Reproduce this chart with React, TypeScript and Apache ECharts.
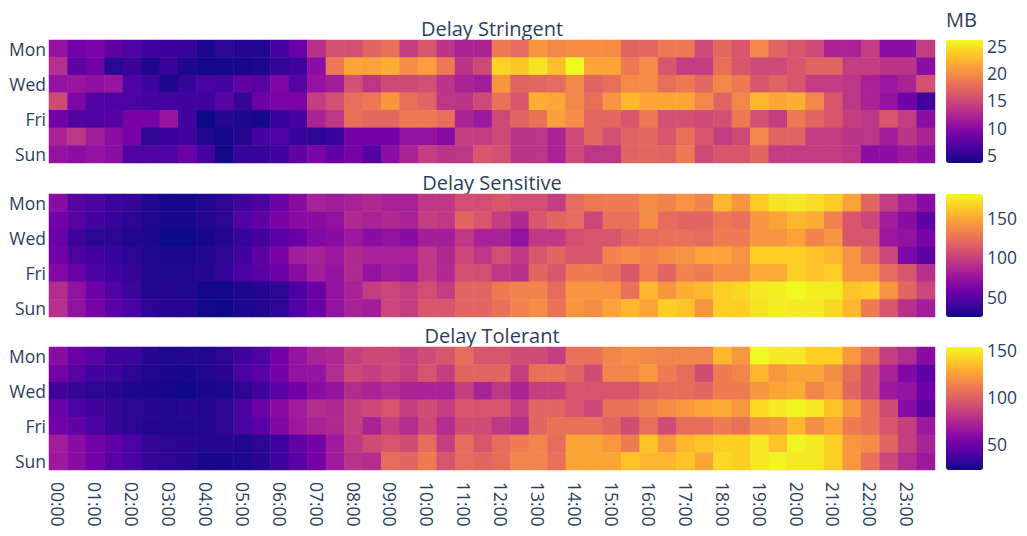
import React, { useEffect, useRef } from 'react';
import * as echarts from 'echarts';

// Weekday rows (Mon at top) and half-hour slots across the day
const days = ['Mon', 'Tue', 'Wed', 'Thu', 'Fri', 'Sat', 'Sun'];
const slots: string[] = [];
for (let h = 0; h < 24; h++) {
  const hh = String(h).padStart(2, '0');
  slots.push(`${hh}:00`, `${hh}:30`);
}

const panelTitles = ['Delay Stringent', 'Delay Sensitive', 'Delay Tolerant'];
const unitLabel = 'MB';

// Colour-bar tick labels per panel
const stringentTicks = [5, 10, 15, 20, 25];
const sensitiveTicks = [50, 100, 150];
const tolerantTicks = [50, 100, 150];

// Average traffic (MB) per weekday x half-hour slot
const delayStringent: number[][] = [
  [10.5, 8.5, 9, 7.5, 6.5, 5.8, 5.5, 5.3, 4.2, 4.8, 4.5, 4.4, 6, 8, 13, 15.5,
   15.5, 17, 18, 14, 16, 13.3, 12, 12, 18.6, 17.5, 20.5, 19.5, 20, 20, 19.8, 17,
   17.3, 18.5, 18.5, 15, 17.3, 16, 19.5, 17, 16, 15, 12, 12, 14, 10, 10, 14],
  [13, 7.5, 8.5, 4.8, 5.5, 4.3, 5.5, 4.2, 3.7, 3.7, 3.9, 4.3, 5.2, 5.7, 10, 18.5,
   21.5, 21.2, 22, 20, 21, 18.5, 13.3, 15, 24, 23.5, 25, 23, 26.1, 21.5, 21.5, 18.5,
   19.8, 16, 14, 14, 17.8, 16, 15, 15, 16, 17, 17, 14, 14, 13.3, 13.3, 10],
  [10.5, 10.8, 10.2, 10.8, 6.5, 5.7, 4.3, 5.2, 6.2, 5.9, 7.5, 7, 9.3, 7, 10.5, 11.5,
   15.5, 13.5, 15, 15, 15.5, 13.3, 12, 11.5, 20.5, 17, 17.3, 17.5, 19.5, 17, 17.8, 19.8,
   19.8, 17.8, 18.5, 17.3, 19.5, 18.5, 16, 17, 16, 14, 14, 13.5, 12, 11, 12, 15.5],
  [15, 9.3, 6.8, 6.6, 6.4, 6, 6, 5.8, 5.8, 7, 5.2, 8, 9, 9, 14, 15.5,
   17.8, 18.5, 20.5, 17.8, 17, 13.5, 13.3, 15, 18, 16, 22, 21.5, 19.5, 17.8, 20.3, 22.5,
   21.5, 21.5, 21.5, 19.5, 17, 19.5, 22.5, 21.5, 22, 19.5, 16, 13.5, 12, 10.5, 8.5, 5.8],
  [8.5, 6.6, 6.4, 6.8, 8.8, 8.8, 10.8, 5.8, 3.5, 4.5, 4.2, 3.8, 5.3, 6, 12, 13.5,
   17.8, 17.3, 17.3, 18.6, 18.6, 17.8, 12, 11, 15, 17, 18, 21, 19.8, 17.3, 17.3, 16,
   18.5, 15.5, 15.5, 15, 15.5, 18.5, 15.5, 14, 18.5, 17, 16, 14, 13.5, 16, 14, 10],
  [12, 13.5, 11.5, 10, 8.8, 5, 5.5, 5.8, 4.4, 3.8, 4.5, 6, 6.4, 5.3, 4.8, 5.4,
   8.5, 8.5, 8.5, 10.5, 10.5, 9.7, 14, 14, 15, 13.3, 13.5, 12, 15, 17.3, 15.5, 17,
   17.3, 16, 17.8, 16, 14, 15, 19.5, 17, 17, 14, 14, 13.3, 13.5, 11.5, 13.3, 12],
  [10.5, 10, 10.5, 10, 6.4, 6.4, 6.4, 8, 6, 3.8, 5.3, 5.3, 5.8, 7.5, 9, 7.5,
   8.8, 6.8, 10, 12, 14, 13.3, 13.5, 16, 15.5, 13.3, 13.5, 12, 15, 13.5, 13.5, 17,
   17.3, 17, 18.5, 15, 16, 16, 17, 14, 14, 14, 14, 13.5, 10, 10, 11, 10],
];

const delaySensitive: number[][] = [
  [68, 49, 43, 38, 36, 30, 27, 27, 30, 33, 40, 43, 55, 68, 82, 79,
   82, 86, 82, 82, 94, 94, 106, 106, 110, 106, 106, 97, 121, 128, 129, 129,
   137, 133, 140, 133, 155, 141, 163, 172, 174, 170, 163, 147, 118, 97, 82, 68],
  [59, 49, 40, 36, 33, 30, 27, 27, 31, 33, 46, 52, 61, 68, 68, 72,
   86, 82, 86, 82, 97, 94, 118, 110, 97, 86, 110, 118, 121, 102, 124, 124,
   137, 121, 118, 118, 128, 124, 141, 147, 155, 151, 133, 110, 102, 79, 68, 52],
  [55, 38, 33, 33, 30, 29, 24, 24, 27, 31, 36, 40, 49, 55, 65, 68,
   76, 68, 72, 68, 79, 79, 94, 82, 82, 72, 94, 94, 106, 110, 110, 118,
   121, 124, 124, 121, 129, 129, 141, 141, 147, 133, 141, 110, 110, 76, 72, 61],
  [59, 44, 40, 36, 33, 30, 29, 29, 30, 33, 40, 52, 61, 79, 82, 76,
   86, 82, 82, 82, 94, 86, 102, 94, 106, 94, 110, 118, 110, 110, 133, 137,
   133, 137, 140, 147, 147, 140, 164, 164, 164, 160, 155, 140, 124, 102, 63, 52],
  [65, 55, 43, 39, 36, 30, 30, 30, 31, 36, 43, 49, 55, 68, 79, 72,
   86, 72, 79, 76, 94, 86, 106, 106, 94, 90, 118, 110, 129, 129, 124, 110,
   130, 118, 133, 129, 137, 137, 151, 151, 164, 160, 164, 141, 141, 121, 110, 90],
  [88, 72, 57, 46, 38, 30, 31, 30, 25, 25, 29, 30, 33, 43, 55, 72,
   82, 97, 102, 97, 106, 97, 118, 118, 128, 133, 133, 121, 141, 141, 140, 124,
   155, 141, 151, 155, 164, 168, 174, 176, 180, 176, 176, 160, 164, 141, 118, 102],
  [90, 72, 61, 49, 43, 33, 31, 31, 25, 24, 29, 30, 33, 46, 55, 72,
   82, 79, 102, 97, 110, 110, 118, 118, 124, 133, 137, 124, 141, 137, 147, 155,
   147, 164, 160, 141, 164, 164, 172, 176, 174, 174, 168, 155, 129, 110, 90, 79],
];

const delayTolerant: number[][] = [
  [59, 48, 43, 35, 34, 29, 27, 28, 27, 30, 35, 39, 51, 63, 71, 74,
   84, 88, 88, 84, 90, 94, 104, 94, 94, 90, 90, 84, 106, 106, 114, 117,
   115, 114, 114, 114, 132, 121, 153, 148, 148, 140, 140, 121, 106, 84, 75, 59],
  [52, 43, 35, 34, 30, 27, 25, 25, 27, 29, 38, 43, 52, 63, 63, 75,
   88, 84, 88, 84, 94, 84, 101, 101, 101, 84, 106, 106, 101, 90, 114, 114,
   121, 110, 104, 90, 110, 114, 132, 121, 126, 126, 117, 104, 90, 71, 56, 45],
  [35, 32, 30, 29, 26, 25, 24, 22, 25, 26, 30, 35, 43, 51, 59, 64,
   75, 71, 75, 71, 71, 71, 84, 71, 81, 71, 84, 84, 94, 94, 94, 94,
   102, 104, 104, 101, 110, 110, 120, 126, 128, 114, 121, 101, 90, 66, 63, 51],
  [48, 39, 35, 32, 30, 29, 27, 29, 27, 30, 38, 48, 59, 68, 76, 74,
   84, 88, 94, 84, 90, 84, 94, 94, 94, 84, 101, 101, 94, 88, 106, 106,
   112, 117, 121, 126, 128, 121, 143, 148, 151, 147, 136, 121, 106, 90, 59, 45],
  [51, 45, 38, 32, 30, 28, 27, 27, 27, 30, 38, 43, 56, 66, 71, 74,
   84, 71, 84, 75, 88, 75, 90, 90, 81, 75, 101, 106, 106, 106, 101, 90,
   105, 90, 104, 104, 110, 106, 117, 120, 132, 117, 126, 110, 106, 94, 84, 66],
  [68, 59, 51, 45, 39, 32, 30, 29, 28, 28, 27, 30, 34, 45, 52, 67,
   81, 90, 94, 90, 104, 84, 104, 94, 104, 110, 114, 104, 126, 126, 121, 110,
   136, 121, 132, 136, 140, 140, 147, 136, 151, 148, 140, 121, 117, 101, 84, 71],
  [66, 59, 51, 43, 38, 32, 30, 29, 25, 25, 26, 29, 34, 43, 52, 67,
   78, 76, 104, 101, 110, 94, 104, 101, 104, 114, 114, 106, 126, 126, 126, 136,
   132, 132, 136, 126, 143, 140, 147, 151, 148, 148, 140, 121, 106, 88, 75, 66],
];

const panels = [
  { title: panelTitles[0], rows: delayStringent, ticks: stringentTicks },
  { title: panelTitles[1], rows: delaySensitive, ticks: sensitiveTicks },
  { title: panelTitles[2], rows: delayTolerant, ticks: tolerantTicks },
];

const plasma = ['#0d0887', '#46039f', '#7201a8', '#9c179e', '#bd3786',
  '#d8576b', '#ed7953', '#fb9f3a', '#fdca26', '#f0f921'];

const FONT = '"Open Sans", verdana, arial, sans-serif';
const INK = '#2a3f5f';
const PLOT_LEFT = 49;
const PLOT_WIDTH = 886;
const PANEL_TOPS = [40, 194, 347];
const PANEL_HEIGHT = 123;
const BAR_LEFT = 946;
const BAR_WIDTH = 37;

function buildOption() {
  const grid: any[] = [];
  const xAxis: any[] = [];
  const yAxis: any[] = [];
  const series: any[] = [];
  const visualMap: any[] = [];
  const graphic: any[] = [];

  panels.forEach((p, i) => {
    const top = PANEL_TOPS[i];
    const flat = p.rows.flat();
    const lo = Math.min(...flat);
    const hi = Math.max(...flat);
    const isLast = i === panels.length - 1;

    grid.push({ left: PLOT_LEFT, top, width: PLOT_WIDTH, height: PANEL_HEIGHT, outerBoundsMode: 'none' });
    xAxis.push({
      type: 'category', gridIndex: i, data: slots,
      axisLine: { show: false }, axisTick: { show: false }, splitLine: { show: false },
      axisLabel: {
        show: isLast, interval: 1, rotate: -90, margin: 12,
        fontSize: 17.5, fontFamily: FONT, color: INK,
      },
    });
    yAxis.push({
      type: 'category', gridIndex: i, data: days, inverse: true,
      axisLine: { show: false }, axisTick: { show: false }, splitLine: { show: false },
      axisLabel: { interval: 1, margin: 3, fontSize: 17.5, fontFamily: FONT, color: INK },
    });

    const data: number[][] = [];
    p.rows.forEach((row, d) => row.forEach((v, s) => data.push([s, d, v])));
    series.push({
      type: 'heatmap', xAxisIndex: i, yAxisIndex: i, data,
      itemStyle: { borderWidth: 0 }, emphasis: { disabled: true },
    });

    visualMap.push({
      type: 'continuous', seriesIndex: i, min: lo, max: hi,
      inRange: { color: plasma }, calculable: false, orient: 'vertical',
      itemWidth: BAR_WIDTH, itemHeight: PANEL_HEIGHT, left: BAR_LEFT, top, padding: 0,
      text: null, showLabel: false, hoverLink: false,
    });

    graphic.push({
      type: 'text', x: PLOT_LEFT + PLOT_WIDTH / 2, y: top - 12, silent: true,
      style: {
        text: p.title, fontSize: 20, fontFamily: FONT, fill: INK,
        align: 'center', verticalAlign: 'middle', textAlign: 'center', textVerticalAlign: 'middle',
      },
    });
  });

  // Colour-bar tick labels, placed on value axes aligned with each colour bar
  panels.forEach((p, i) => {
    const flat = p.rows.flat();
    const gi = panels.length + i;
    grid.push({ left: BAR_LEFT, top: PANEL_TOPS[i], width: BAR_WIDTH, height: PANEL_HEIGHT, outerBoundsMode: 'none' });
    xAxis.push({ type: 'value', gridIndex: gi, show: false, min: 0, max: 1 });
    yAxis.push({
      type: 'value', gridIndex: gi, position: 'right',
      min: Math.min(...flat), max: Math.max(...flat),
      axisLine: { show: false }, axisTick: { show: false }, splitLine: { show: false },
      axisLabel: { customValues: p.ticks, margin: 4, fontSize: 17.5, fontFamily: FONT, color: INK },
    });
  });

  graphic.push({
    type: 'text', x: BAR_LEFT, y: 19, silent: true,
    style: {
      text: unitLabel, fontSize: 20, fontFamily: FONT, fill: INK,
      align: 'left', verticalAlign: 'middle', textAlign: 'left', textVerticalAlign: 'middle',
    },
  });

  return {
    animation: false,
    backgroundColor: '#ffffff',
    grid, xAxis, yAxis, series, visualMap, graphic,
  };
}

export default function App() {
  const ref = useRef<HTMLDivElement>(null);
  useEffect(() => {
    if (!ref.current) return;
    const chart = echarts.init(ref.current, undefined, { renderer: 'svg' });
    chart.setOption(buildOption() as any);
    return () => chart.dispose();
  }, []);
  return (
    <div
      ref={ref}
      style={{ position: 'absolute', left: 0, top: 0, width: 1027, height: 536 }}
    />
  );
}
